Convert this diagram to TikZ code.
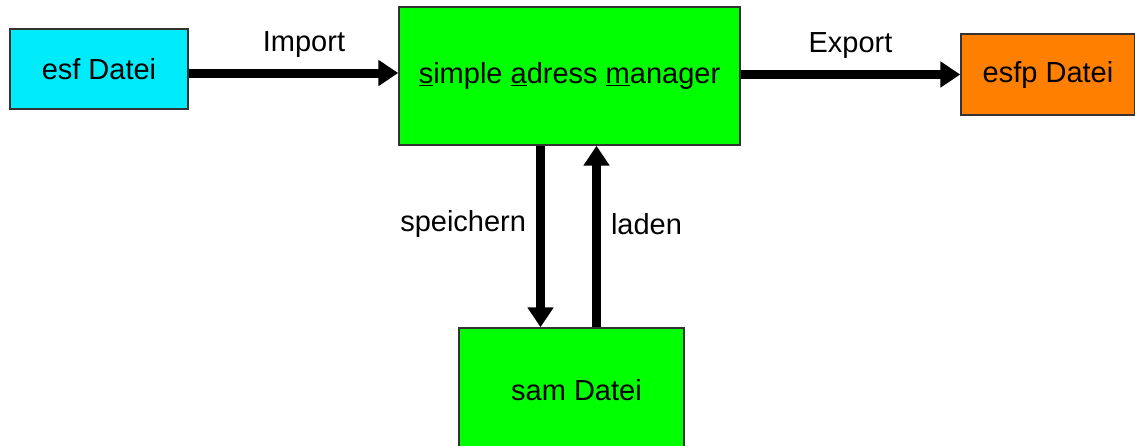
\documentclass[tikz,border=0pt]{standalone}
\usepackage{fontspec}
\setmainfont{Liberation Sans}
\usetikzlibrary{arrows.meta}
\definecolor{esfcyan}{RGB}{0,236,250}
\definecolor{samgreen}{RGB}{0,255,0}
\definecolor{esfporange}{RGB}{255,128,0}
\tikzset{
  filebox/.style={draw=black!80, line width=1.4pt, inner sep=0pt,
    font=\fontsize{29}{33}\selectfont},
  flow/.style={line width=9pt, -{Triangle[length=20pt,width=25pt]}},
  flowlabel/.style={font=\fontsize{29}{33}\selectfont, inner sep=2pt}
}
\begin{document}
\begin{tikzpicture}[x=1pt,y=-1pt]
  \clip (0,0) rectangle (1135,445);
  \fill[white] (0,0) rectangle (1135,445);
  % boxes
  \node[filebox, fill=esfcyan, minimum width=178pt, minimum height=80pt] (esf) at (99,69) {esf Datei};
  \node[filebox, fill=samgreen, minimum width=341pt, minimum height=138pt] (mgr) at (569.5,76)
    {\underline{s}imple \underline{a}dress \underline{m}anager};
  \node[filebox, fill=esfporange, minimum width=174pt, minimum height=81pt] (esfp) at (1048,74.5) {esfp Datei};
  \node[filebox, fill=samgreen, minimum width=225pt, minimum height=130pt, text depth=0pt] (sam) at (571.5,393)
    {\raisebox{6pt}{\hspace{10pt}sam Datei}};
  % connectors
  \draw[flow] ([yshift=-4pt]esf.east) -- ([yshift=-4pt]esf.east -| mgr.west)
    node[flowlabel, pos=0.55, above=9pt] {Import};
  \draw[flow] (esfp.west -| mgr.east) -- (esfp.west)
    node[flowlabel, pos=0.5, above=9pt] {Export};
  \draw[flow] ([xshift=-29pt]mgr.south) -- ([xshift=-29pt]mgr.south |- sam.north)
    node[flowlabel, pos=0.43, left=8pt] {speichern};
  \draw[flow] ([xshift=27pt]mgr.south |- sam.north) -- ([xshift=27pt]mgr.south)
    node[flowlabel, pos=0.57, right=8pt] {laden};
\end{tikzpicture}
\end{document}
